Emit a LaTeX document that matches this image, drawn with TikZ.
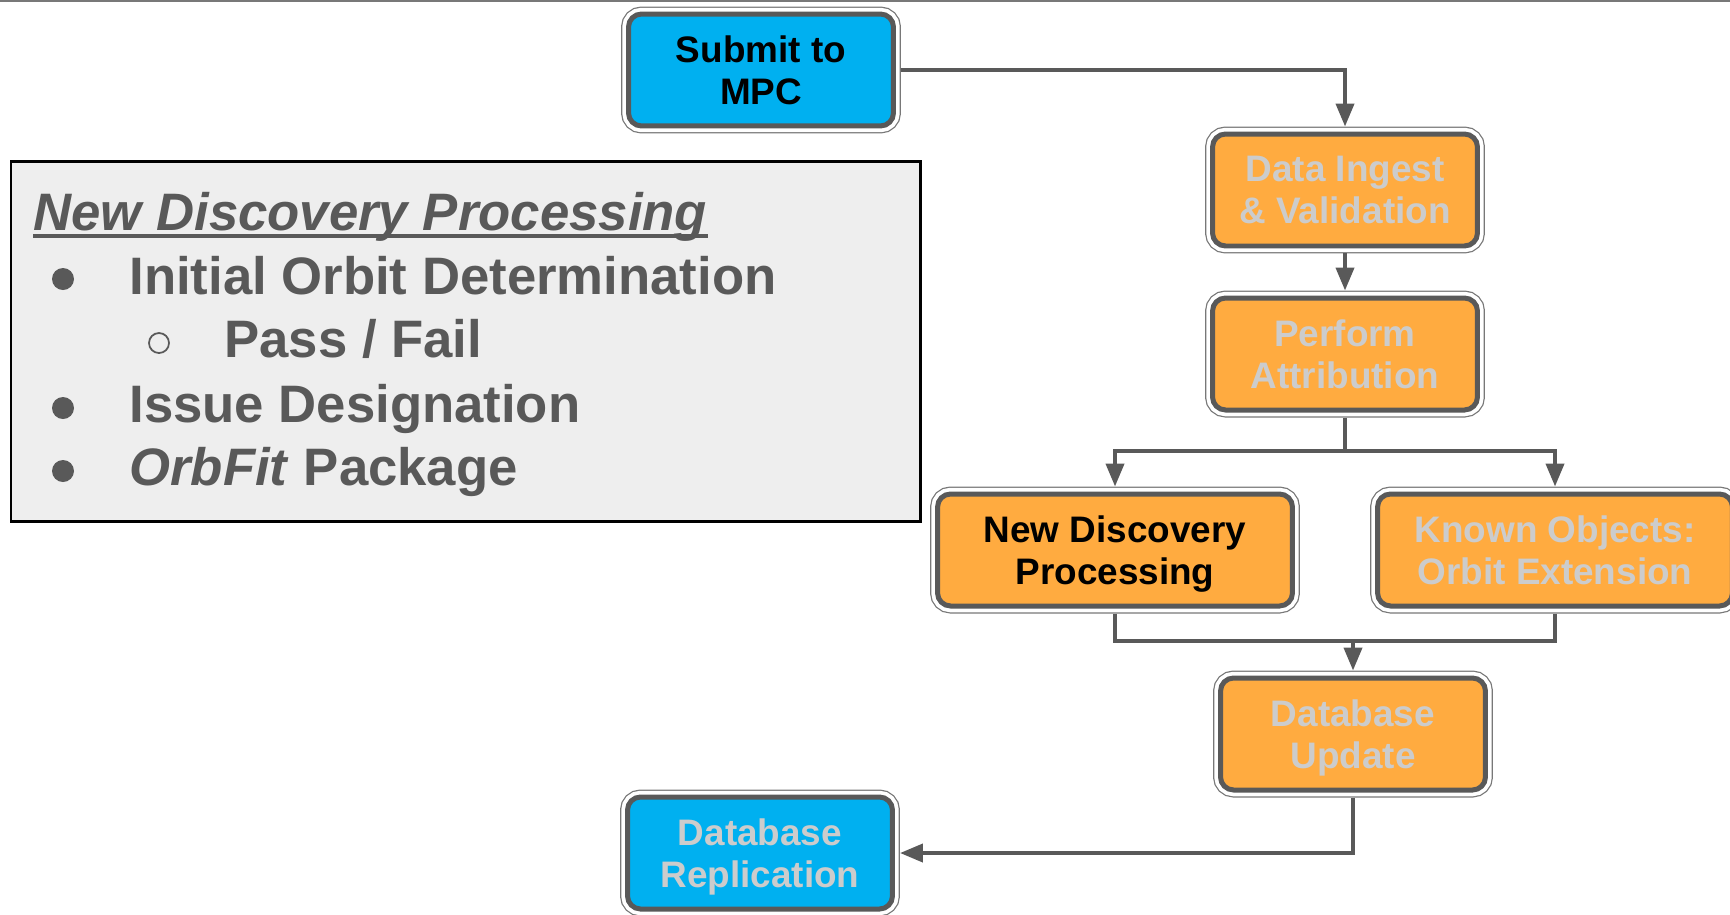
\documentclass[tikz,border=0pt]{standalone}
\usepackage{fontspec}
\setmainfont{Liberation Sans}
\usepackage{xcolor}
\usetikzlibrary{arrows.meta}
\usetikzlibrary{math}
\definecolor{mpcblue}{RGB}{0,176,240}
\definecolor{steporange}{RGB}{255,171,64}
\definecolor{edgegray}{RGB}{89,89,89}
\definecolor{ringgray}{RGB}{120,120,120}
\definecolor{fadetext}{RGB}{204,204,204}
\definecolor{panelgray}{RGB}{238,238,238}

\begin{document}
\begin{tikzpicture}[x=0.02cm, y=-0.02cm,
  flowbox/.style={rounded corners=0.26cm, minimum width=5.3cm, minimum height=2.24cm,
    inner sep=0pt, outer sep=0.15cm, align=center, text depth=0pt,
    font=\bfseries\fontsize{21}{23.8}\selectfont,
    draw=edgegray, line width=0.1cm,
    preaction={draw=ringgray, line width=0.3cm},
    preaction={draw=white, line width=0.25cm}},
  widebox/.style={flowbox, minimum width=7.1cm},
  flowline/.style={draw=edgegray, line width=0.08cm},
  flowarrow/.style={flowline, -{Triangle[width=0.36cm, length=0.46cm]}},
  listtext/.style={anchor=base west, inner sep=0pt, text=edgegray,
    font=\bfseries\fontsize{30}{36}\selectfont}]
\tikzmath{
\bulletR=11;
\bulletX=63;
}
\useasboundingbox (0,0) rectangle (1730,914);

\draw[ringgray, line width=0.04cm] (0,1) -- (1730,1);

% side panel
\draw[fill=panelgray, draw=black, line width=0.06cm] (11,161) rectangle (920,521);
\node[listtext] (title) at (33,230) {\textit{New Discovery Processing}};
\draw[edgegray, line width=0.065cm] ([yshift=-0.12cm]title.base west) -- ([yshift=-0.12cm]title.base east);
\node[listtext] (iod) at (129,294) {Initial Orbit Determination};
\node[listtext] (pass) at (224,357) {Pass / Fail};
\node[listtext] (desig) at (129,422) {Issue Designation};
\node[listtext] (orbfit) at (129,485) {\textit{OrbFit} Package};
\fill[edgegray] (\bulletX,279) circle (\bulletR);
\draw[edgegray, line width=0.035cm] (159,343) circle (10);
\fill[edgegray] (\bulletX,408) circle (\bulletR);
\fill[edgegray] (\bulletX,471) circle (\bulletR);

% flow boxes
\node[flowbox, fill=mpcblue] (submit) at (761,70) {Submit to\\MPC};
\node[flowbox, fill=steporange, text=fadetext] (ingest) at (1345,190) {Data Ingest\\\& Validation};
\node[flowbox, fill=steporange, text=fadetext] (attrib) at (1345,354) {Perform\\Attribution};
\node[widebox, fill=steporange] (newdisc) at (1115,550) {New Discovery\\Processing};
\node[widebox, fill=steporange, text=fadetext] (known) at (1555,550) {Known Objects:\\Orbit Extension};
\node[flowbox, fill=steporange, text=fadetext] (dbupdate) at (1353,734) {Database\\Update};
\node[flowbox, fill=mpcblue, text=fadetext] (replic) at (760,853) {Database\\Replication};

% connectors
\coordinate (split) at (1345,451);
\coordinate (merge) at (1353,641);
\draw[flowarrow] (submit.east) -| (ingest.north);
\draw[flowarrow] (ingest.south) -- (attrib.north);
\draw[flowline] (attrib.south) -- (split);
\draw[flowarrow] (split) -| (newdisc.north);
\draw[flowarrow] (split) -| (known.north);
\draw[flowline] (newdisc.south) |- (merge);
\draw[flowline] (known.south) |- (merge);
\draw[flowarrow] (merge) -- (dbupdate.north);
\draw[flowarrow] (dbupdate.south) |- (replic.east);
\end{tikzpicture}
\end{document}
